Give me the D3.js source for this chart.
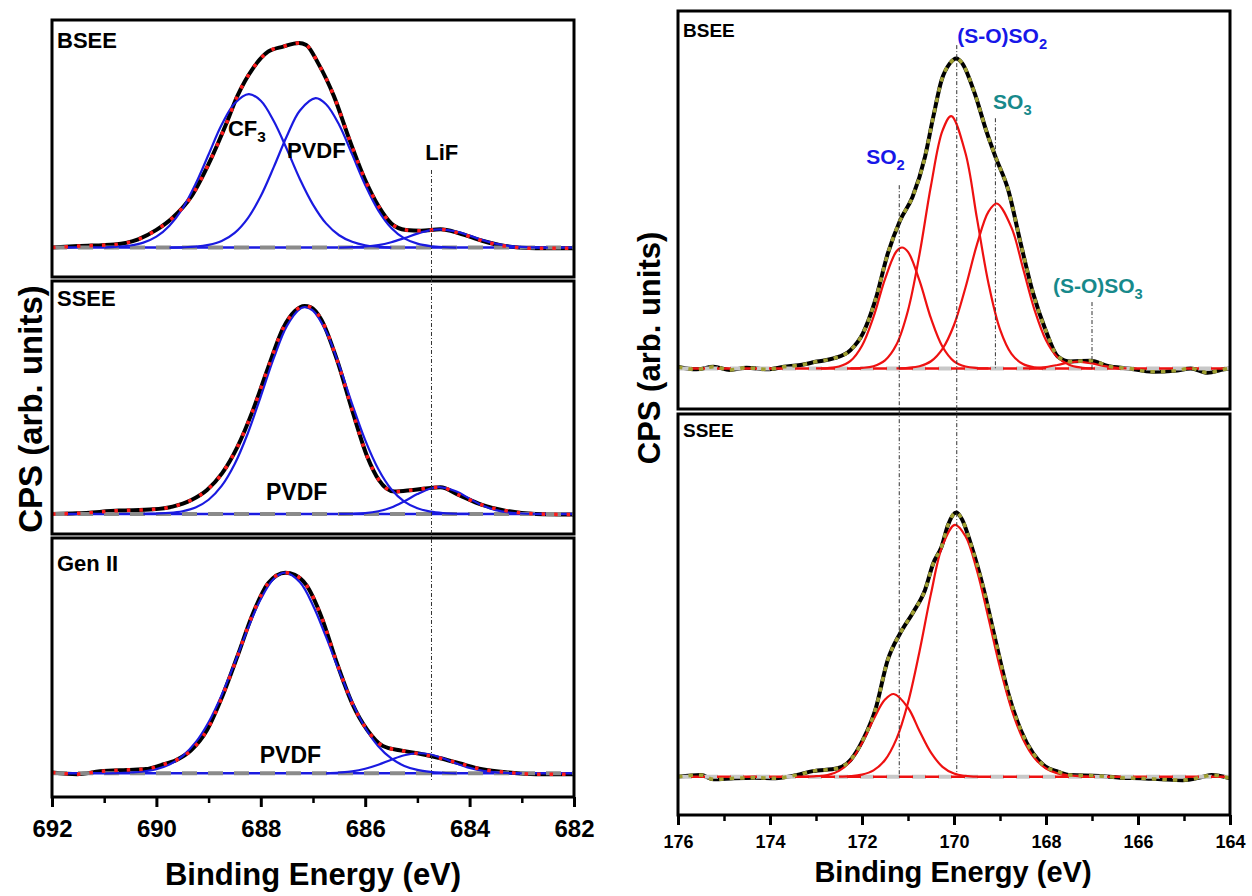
<!DOCTYPE html>
<html>
<head>
<meta charset="utf-8">
<script src="https://cdn.jsdelivr.net/npm/d3@7"></script>
<style>
  body { margin: 0; background: #fff; }
  svg text { font-family: "Liberation Sans", Arial, Helvetica, sans-serif; font-weight: bold; }
</style>
</head>
<body>
<svg id="chart" width="1252" height="896"></svg>
<script>
// ---- F 1s (left) : [binding energy eV, normalised CPS] ----
const f1sBseeMeas = [[692.0,0.0],[691.5,0.007],[690.8,0.015],[690.35,0.04],[690.0,0.086],[689.7,0.143],[689.33,0.25],[688.96,0.43],[688.67,0.6],[688.45,0.74],[688.15,0.876],[687.86,0.957],[687.57,0.982],[687.27,1.0],[687.13,0.99],[686.9,0.9],[686.6,0.74],[686.3,0.526],[686.0,0.33],[685.74,0.2],[685.5,0.118],[685.22,0.086],[684.93,0.082],[684.56,0.089],[684.2,0.07],[683.76,0.033],[683.32,0.007],[682.73,-0.004],[682.0,-0.004]];
const f1sBseeCF3 = [[691.0,0.0],[690.75,0.004],[690.5,0.01],[690.25,0.024],[690.0,0.053],[689.75,0.107],[689.5,0.19],[689.25,0.31],[689.0,0.455],[688.75,0.6],[688.5,0.705],[688.23,0.75],[688.0,0.717],[687.75,0.617],[687.5,0.48],[687.25,0.334],[687.0,0.21],[686.75,0.118],[686.5,0.06],[686.25,0.028],[686.0,0.011],[685.75,0.004],[685.5,0.0]];
const f1sBseePVDF = [[689.75,0.0],[689.5,0.001],[689.25,0.004],[689.0,0.013],[688.75,0.032],[688.5,0.072],[688.25,0.143],[688.0,0.252],[687.75,0.394],[687.5,0.545],[687.25,0.67],[686.95,0.73],[686.75,0.70],[686.5,0.60],[686.25,0.455],[686.0,0.306],[685.75,0.182],[685.5,0.096],[685.25,0.045],[685.0,0.019],[684.75,0.007],[684.5,0.002],[684.25,0.0]];
const f1sBseeLiF = [[686.5,0.0],[686.25,0.002],[686.0,0.005],[685.75,0.012],[685.5,0.026],[685.25,0.046],[685.0,0.068],[684.75,0.085],[684.56,0.089],[684.25,0.078],[684.0,0.058],[683.75,0.036],[683.5,0.019],[683.25,0.008],[683.0,0.003],[682.75,0.001],[682.5,0.0]];

const f1sSseeMeas = [[692.0,0.0],[691.52,0.003],[690.72,0.016],[690.06,0.022],[689.69,0.035],[689.33,0.067],[689.03,0.115],[688.74,0.195],[688.45,0.32],[688.15,0.497],[687.86,0.70],[687.57,0.89],[687.35,0.97],[687.16,0.995],[687.05,0.99],[686.84,0.93],[686.54,0.737],[686.25,0.497],[685.96,0.274],[685.74,0.163],[685.44,0.107],[685.08,0.115],[684.56,0.128],[684.2,0.09],[683.76,0.043],[683.32,0.016],[682.73,0.0],[682.0,-0.003]];
const f1sSseePVDF = [[690.25,0.0],[690.0,0.002],[689.75,0.005],[689.5,0.013],[689.25,0.031],[689.0,0.068],[688.75,0.134],[688.5,0.239],[688.25,0.385],[688.0,0.563],[687.75,0.747],[687.5,0.90],[687.25,0.982],[687.15,0.99],[687.0,0.973],[686.75,0.874],[686.5,0.712],[686.25,0.526],[686.0,0.353],[685.75,0.215],[685.5,0.118],[685.25,0.059],[685.0,0.027],[684.75,0.011],[684.5,0.004],[684.25,0.001],[684.0,0.0]];
const f1sSseeLiF = [[686.5,0.0],[686.25,0.001],[686.0,0.004],[685.75,0.013],[685.5,0.031],[685.25,0.061],[685.0,0.095],[684.75,0.122],[684.58,0.128],[684.25,0.107],[684.0,0.073],[683.75,0.04],[683.5,0.018],[683.25,0.007],[683.0,0.002],[682.75,0.0]];

const f1sGen2Meas = [[692.0,0.004],[691.52,-0.004],[691.08,0.01],[690.57,0.017],[690.2,0.021],[689.91,0.041],[689.62,0.066],[689.33,0.116],[689.03,0.216],[688.74,0.382],[688.45,0.582],[688.15,0.797],[687.86,0.947],[687.53,1.0],[687.35,0.989],[687.13,0.939],[686.84,0.781],[686.54,0.548],[686.25,0.349],[685.96,0.216],[685.66,0.136],[685.3,0.113],[684.93,0.096],[684.56,0.075],[684.2,0.05],[683.76,0.02],[683.25,0.004],[682.73,-0.004],[682.0,-0.004]];
const f1sGen2PVDF = [[691.0,0.0],[690.75,0.001],[690.5,0.004],[690.25,0.009],[690.0,0.021],[689.75,0.044],[689.5,0.086],[689.25,0.154],[689.0,0.255],[688.75,0.39],[688.5,0.551],[688.25,0.72],[688.0,0.869],[687.75,0.97],[687.53,1.0],[687.25,0.952],[687.0,0.837],[686.75,0.68],[686.5,0.511],[686.25,0.355],[686.0,0.227],[685.75,0.135],[685.5,0.074],[685.25,0.037],[685.0,0.017],[684.75,0.0075],[684.5,0.003],[684.25,0.0]];
const f1sGen2LiF = [[686.75,0.0],[686.5,0.004],[686.25,0.01],[686.0,0.023],[685.75,0.043],[685.5,0.068],[685.25,0.09],[684.97,0.1],[684.75,0.094],[684.5,0.074],[684.25,0.049],[684.0,0.027],[683.75,0.013],[683.5,0.005],[683.25,0.0015],[683.0,0.0]];

// ---- S 2p (right) ----
const s2pBseeMeas = [[176.0,0.005],[175.6,-0.003],[175.23,0.005],[174.87,-0.005],[174.51,0.002],[174.06,-0.003],[173.7,0.005],[173.34,0.011],[172.98,0.022],[172.62,0.032],[172.25,0.059],[171.98,0.113],[171.71,0.22],[171.44,0.37],[171.17,0.478],[170.9,0.554],[170.63,0.683],[170.45,0.812],[170.27,0.93],[170.09,0.984],[169.95,1.0],[169.82,0.984],[169.55,0.887],[169.28,0.758],[169.1,0.683],[168.82,0.575],[168.55,0.403],[168.28,0.242],[168.01,0.124],[167.74,0.038],[167.47,0.022],[167.02,0.025],[166.66,0.008],[166.21,0.0],[165.67,-0.011],[165.21,-0.008],[164.85,0.0],[164.49,-0.014],[164.13,-0.003],[164.0,0.0]];
const s2pBseeSO2 = [[173.0,0.0],[172.75,0.001],[172.5,0.006],[172.25,0.024],[172.0,0.073],[171.75,0.166],[171.5,0.288],[171.25,0.378],[171.13,0.39],[171.0,0.376],[170.75,0.283],[170.5,0.161],[170.25,0.07],[170.0,0.023],[169.75,0.006],[169.5,0.001],[169.25,0.0]];
const s2pBseeSOSO2 = [[172.25,0.0],[172.0,0.0015],[171.75,0.007],[171.5,0.026],[171.25,0.077],[171.0,0.187],[170.75,0.368],[170.5,0.59],[170.25,0.767],[170.06,0.814],[169.75,0.694],[169.5,0.483],[169.25,0.274],[169.0,0.126],[168.75,0.047],[168.5,0.014],[168.25,0.0035],[168.0,0.0]];
const s2pBseeSO3 = [[171.25,0.0],[171.0,0.0017],[170.75,0.007],[170.5,0.023],[170.25,0.063],[170.0,0.14],[169.75,0.261],[169.5,0.4],[169.25,0.506],[169.07,0.532],[168.75,0.454],[168.5,0.323],[168.25,0.189],[168.0,0.091],[167.75,0.036],[167.5,0.012],[167.25,0.003],[167.0,0.0]];
const s2pBseeSOSO3 = [[168.5,0.0],[168.25,0.001],[168.0,0.0043],[167.75,0.011],[167.5,0.019],[167.3,0.022],[167.0,0.016],[166.75,0.008],[166.5,0.0026],[166.25,0.0]];

const s2pSseeMeas = [[176.0,0.0],[175.5,0.006],[175.23,-0.01],[174.78,-0.006],[174.33,-0.004],[173.88,-0.006],[173.43,0.006],[173.07,0.021],[172.53,0.032],[172.25,0.063],[171.98,0.139],[171.71,0.253],[171.44,0.442],[171.17,0.543],[170.9,0.619],[170.63,0.707],[170.45,0.808],[170.27,0.871],[170.13,0.953],[169.95,1.0],[169.82,0.972],[169.64,0.884],[169.37,0.72],[169.1,0.518],[168.82,0.316],[168.55,0.177],[168.28,0.088],[168.01,0.038],[167.74,0.019],[167.47,0.006],[166.84,0.003],[166.39,-0.004],[165.94,-0.006],[165.49,-0.01],[165.03,-0.013],[164.58,0.0],[164.4,0.006],[164.0,-0.006]];
const s2pSseeSO2 = [[173.25,0.0],[173.0,0.002],[172.75,0.006],[172.5,0.022],[172.25,0.059],[172.0,0.127],[171.75,0.217],[171.5,0.292],[171.31,0.313],[171.0,0.261],[170.75,0.173],[170.5,0.091],[170.25,0.0375],[170.0,0.012],[169.75,0.003],[169.5,0.0]];
const s2pSseeSOSO2 = [[172.5,0.0],[172.25,0.002],[172.0,0.008],[171.75,0.024],[171.5,0.063],[171.25,0.143],[171.0,0.28],[170.75,0.474],[170.5,0.693],[170.25,0.875],[169.98,0.953],[169.75,0.91],[169.5,0.78],[169.25,0.6],[169.0,0.413],[168.75,0.256],[168.5,0.142],[168.25,0.071],[168.0,0.031],[167.75,0.0126],[167.5,0.0045],[167.25,0.0015],[167.0,0.0]];

const f1sTicks = [692, 690, 688, 686, 684, 682];
const s2pTicks = [176, 174, 172, 170, 168, 166, 164];

const svg = d3.select('#chart');
const FONT_BLUE = '#1717e8';
const FONT_TEAL = '#17898b';

const xF = d3.scaleLinear().domain([692, 682]).range([52, 574]);
const xS = d3.scaleLinear().domain([176, 164]).range([678, 1230]);

const panels = [
  { id: 'fb', x: xF, top: 20,  bottom: 277, dom: [-0.144, 1.112], name: 'BSEE',   nameSize: 22, nameDy: 28,
    meas: f1sBseeMeas, comps: [f1sBseeCF3, f1sBseePVDF, f1sBseeLiF], comp: '#1a1ae0', fit: '#ff1a1a', dots: '3.5,9', base: 'blue' },
  { id: 'fs', x: xF, top: 281, bottom: 534, dom: [-0.096, 1.115], name: 'SSEE',   nameSize: 22, nameDy: 25,
    meas: f1sSseeMeas, comps: [f1sSseePVDF, f1sSseeLiF], comp: '#1a1ae0', fit: '#ff1a1a', dots: '3.5,9', base: 'blue' },
  { id: 'fg', x: xF, top: 538, bottom: 797, dom: [-0.118, 1.173], name: 'Gen II', nameSize: 22, nameDy: 33,
    meas: f1sGen2Meas, comps: [f1sGen2PVDF, f1sGen2LiF], comp: '#1a1ae0', fit: '#ff1a1a', dots: '3.5,9', base: 'blue' },
  { id: 'sb', x: xS, top: 11,  bottom: 409, dom: [-0.131, 1.153], name: 'BSEE',   nameSize: 19, nameDy: 26,
    meas: s2pBseeMeas, comps: [s2pBseeSO2, s2pBseeSOSO2, s2pBseeSO3, s2pBseeSOSO3], comp: '#ee1111', fit: '#a0a032', dots: '4.5,6', base: 'red' },
  { id: 'ss', x: xS, top: 414, bottom: 815, dom: [-0.145, 1.373], name: 'SSEE',   nameSize: 19, nameDy: 23,
    meas: s2pSseeMeas, comps: [s2pSseeSO2, s2pSseeSOSO2], comp: '#ee1111', fit: '#a0a032', dots: '4.5,6', base: 'red' }
];

panels.forEach(p => {
  p.y = d3.scaleLinear().domain(p.dom).range([p.bottom, p.top]);
  const [x0, x1] = p.x.range();
  const e = p.x.domain();

  svg.append('clipPath').attr('id', 'clip-' + p.id)
    .append('rect').attr('x', x0).attr('y', p.top).attr('width', x1 - x0).attr('height', p.bottom - p.top);

  const g = svg.append('g').attr('clip-path', `url(#clip-${p.id})`);

  const smooth = d3.line().x(d => p.x(d[0])).y(d => p.y(d[1])).curve(d3.curveMonotoneX);
  const peak = d3.line().x(d => p.x(d[0])).y(d => p.y(d[1])).curve(d3.curveCatmullRom.alpha(0.5));
  const baseLine = [[e[0], 0], [e[1], 0]];

  // measured spectrum
  g.append('path').datum(p.meas).attr('d', smooth)
    .attr('fill', 'none').attr('stroke', '#000').attr('stroke-width', 4).attr('stroke-linejoin', 'round');

  // background
  if (p.base === 'blue') {
    g.append('path').datum(baseLine).attr('d', smooth)
      .attr('stroke', p.comp).attr('stroke-width', 2.5).attr('fill', 'none');
    g.append('path').datum(baseLine).attr('d', smooth)
      .attr('stroke', '#8a8a8a').attr('stroke-width', 4).attr('stroke-dasharray', '15,11').attr('fill', 'none');
  } else {
    g.append('path').datum(baseLine).attr('d', smooth)
      .attr('stroke', '#c8c8c8').attr('stroke-width', 4).attr('stroke-dasharray', '14,12').attr('fill', 'none');
    g.append('path').datum(baseLine).attr('d', smooth)
      .attr('stroke', p.comp).attr('stroke-width', 2.5).attr('stroke-dasharray', '14,12')
      .attr('stroke-dashoffset', 13).attr('fill', 'none');
  }

  // fitted components
  p.comps.forEach(c => {
    g.append('path').datum(c).attr('d', peak)
      .attr('fill', 'none').attr('stroke', p.comp).attr('stroke-width', 2.2);
  });

  // fit envelope (dotted)
  g.append('path').datum(p.meas).attr('d', smooth)
    .attr('fill', 'none').attr('stroke', p.fit).attr('stroke-width', 3.5).attr('stroke-dasharray', p.dots);

  // frame
  svg.append('rect').attr('x', x0).attr('y', p.top).attr('width', x1 - x0).attr('height', p.bottom - p.top)
    .attr('fill', 'none').attr('stroke', '#000').attr('stroke-width', 3);

  svg.append('text').attr('x', x0 + 5).attr('y', p.top + p.nameDy)
    .attr('font-size', p.nameSize).attr('fill', '#000').text(p.name);
});

const P = Object.fromEntries(panels.map(p => [p.id, p]));

// reference lines: [energy, top panel, top value, bottom panel, bottom value]
const guideLines = [
  [684.73, 'fb', 0.379, 'fg', -0.038],
  [171.19, 'sb', 0.591, 'ss', -0.005],
  [169.94, 'sb', 1.043, 'ss', 0.014],
  [169.10, 'sb', 0.807, 'sb', -0.005],
  [167.00, 'sb', 0.214, 'sb', -0.005]
];
guideLines.forEach(([e, pa, va, pb, vb]) => {
  svg.append('line')
    .attr('x1', P[pa].x(e)).attr('x2', P[pa].x(e))
    .attr('y1', P[pa].y(va)).attr('y2', P[pb].y(vb))
    .attr('stroke', '#333').attr('stroke-width', 1).attr('stroke-dasharray', '4,2,1,2');
});

// peak labels: [panel, energy, value, main text, subscript, colour, size]
const peakLabels = [
  ['fb', 688.63, 0.545, 'CF', '3', '#000', 22],
  ['fb', 687.50, 0.438, 'PVDF', '', '#000', 22],
  ['fb', 684.85, 0.428, 'LiF', '', '#000', 22],
  ['fs', 687.90, 0.067, 'PVDF', '', '#000', 23],
  ['fg', 688.02, 0.051, 'PVDF', '', '#000', 23],
  ['sb', 169.93, 1.049, '(S-O)SO', '2', FONT_BLUE, 21],
  ['sb', 169.15, 0.836, 'SO', '3', FONT_TEAL, 21],
  ['sb', 171.91, 0.659, 'SO', '2', FONT_BLUE, 21],
  ['sb', 167.85, 0.243, '(S-O)SO', '3', FONT_TEAL, 21]
];
peakLabels.forEach(([pid, e, v, txt, sub, col, fs]) => {
  const p = P[pid];
  const t = svg.append('text').attr('x', p.x(e)).attr('y', p.y(v))
    .attr('font-size', fs).attr('fill', col);
  t.append('tspan').text(txt);
  if (sub) t.append('tspan').attr('font-size', fs * 0.7).attr('dy', fs * 0.28).text(sub);
});

// x axes
function drawAxis(x, yPos, ticks, fontSize, pad) {
  const minor = d3.range(x.domain()[1], x.domain()[0] + 1, 1).filter(v => !ticks.includes(v));
  const gMin = svg.append('g').attr('transform', `translate(0,${yPos})`)
    .call(d3.axisBottom(x).tickValues(minor).tickSize(6).tickFormat(''));
  gMin.select('.domain').remove();
  gMin.selectAll('.tick line').attr('stroke', '#000').attr('stroke-width', 2.5);

  const gMaj = svg.append('g').attr('transform', `translate(0,${yPos})`)
    .call(d3.axisBottom(x).tickValues(ticks).tickSize(10).tickPadding(pad).tickFormat(d3.format('d')));
  gMaj.select('.domain').remove();
  gMaj.selectAll('.tick line').attr('stroke', '#000').attr('stroke-width', 3);
  gMaj.selectAll('.tick text').attr('font-size', fontSize).attr('fill', '#000')
    .style('font-family', '"Liberation Sans", Arial, sans-serif').style('font-weight', 'bold');
}
drawAxis(xF, 797, f1sTicks, 24, 13);
drawAxis(xS, 815, s2pTicks, 18, 10);

// axis titles
svg.append('text').attr('x', 313).attr('y', 885).attr('text-anchor', 'middle')
  .attr('font-size', 31).text('Binding Energy (eV)');
svg.append('text').attr('x', 953).attr('y', 882).attr('text-anchor', 'middle')
  .attr('font-size', 29).text('Binding Energy (eV)');

svg.append('text').attr('transform', 'translate(42,409) rotate(-90)').attr('text-anchor', 'middle')
  .attr('font-size', 33).text('CPS (arb. units)');
svg.append('text').attr('transform', 'translate(660,348) rotate(-90)').attr('text-anchor', 'middle')
  .attr('font-size', 31).text('CPS (arb. units)');
</script>
</body>
</html>
